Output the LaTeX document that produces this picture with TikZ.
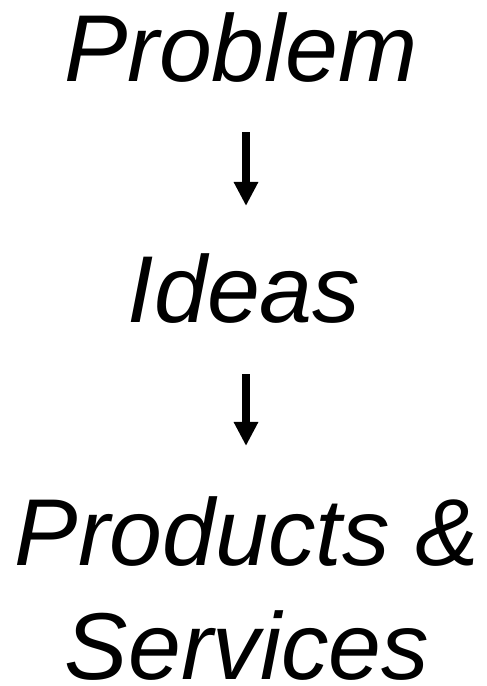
\documentclass[tikz,border=0pt]{standalone}
\usepackage{fontspec}
\setmainfont{Liberation Sans}
\usetikzlibrary{arrows.meta}

\begin{document}
\begin{tikzpicture}[x=1pt, y=1pt,
    stage/.style={font=\fontsize{95}{115}\selectfont\itshape, inner sep=0pt, anchor=base, align=center},
    flow/.style={-{Triangle[width=23pt,length=24pt]}, line width=8pt}]
    \useasboundingbox (0,0) rectangle (487,686);

    % STAGES
    \node[stage] (problem) at (241,604) {Problem};
    \node[stage] (ideas) at (244,363) {Ideas};
    \node[stage] (products) at (247,6) {Products \&\\Services};

    % FLOW
    \coordinate (axis) at (246,0);
    \draw[flow, shorten <=49pt, shorten >=48pt] (problem.south -| axis) -- (ideas.north -| axis);
    \draw[flow, shorten <=50pt, shorten >=50pt] (ideas.south -| axis) -- (products.north -| axis);
\end{tikzpicture}
\end{document}
